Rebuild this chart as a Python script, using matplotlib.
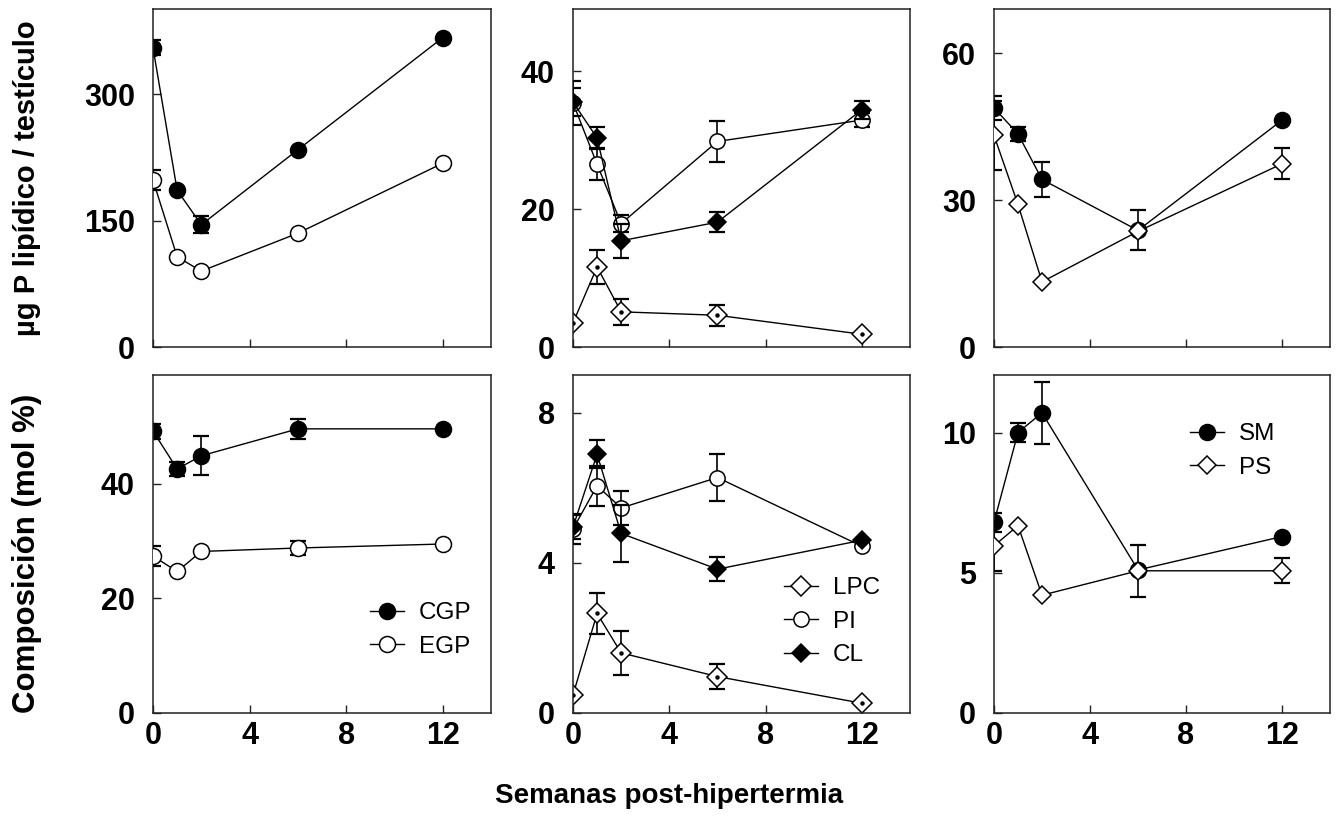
import numpy as np
import matplotlib
matplotlib.use("Agg")
import matplotlib.pyplot as plt

plt.rcParams['font.family'] = ['Liberation Sans', 'DejaVu Sans']

weeks = [0, 1, 2, 6, 12]

# top row: ug P lipidico / testiculo
CGP_abs = [355, 186, 145, 234, 367]
CGP_abs_err = [9, 0, 10, 0, 0]
EGP_abs = [198, 107, 90, 135, 218]
EGP_abs_err = [12, 0, 0, 0, 0]
LPC_abs = [3.5, 11.6, 5.1, 4.6, 1.85]
LPC_abs_err = [0, 2.4, 1.9, 1.5, 0]
PI_abs = [35.4, 26.5, 17.9, 29.8, 32.9]
PI_abs_err = [3.2, 2.3, 1.2, 3.0, 1.0]
CL_abs = [35.5, 30.3, 15.4, 18.1, 34.4]
CL_abs_err = [2.0, 1.6, 2.5, 1.5, 1.3]
SM_abs = [48.8, 43.5, 34.2, 23.8, 46.3]
SM_abs_err = [2.4, 1.4, 3.5, 4.1, 0]
PS_abs = [43.2, 29.1, 13.3, 23.6, 37.4]
PS_abs_err = [7.0, 0, 0, 0, 3.2]

# bottom row: composicion (mol %)
CGP_pct = [49.2, 42.6, 44.9, 49.6, 49.6]
CGP_pct_err = [1.3, 1.3, 3.4, 1.7, 0]
EGP_pct = [27.4, 24.7, 28.2, 28.8, 29.5]
EGP_pct_err = [1.75, 0, 0, 1.3, 0]
LPC_pct = [0.48, 2.65, 1.6, 0.97, 0.26]
LPC_pct_err = [0, 0.55, 0.59, 0.34, 0]
PI_pct = [4.9, 6.05, 5.46, 6.27, 4.44]
PI_pct_err = [0.4, 0.53, 0.45, 0.62, 0]
CL_pct = [4.95, 6.89, 4.78, 3.83, 4.6]
CL_pct_err = [0.33, 0.37, 0.75, 0.32, 0]
SM_pct = [6.8, 10.0, 10.7, 5.1, 6.29]
SM_pct_err = [0.33, 0.34, 1.1, 0, 0]
PS_pct = [5.96, 6.68, 4.2, 5.07, 5.07]
PS_pct_err = [0.9, 0, 0, 0.92, 0.45]

x_ticks = [0, 4, 8, 12]

W, H = 1338, 834
fig = plt.figure(figsize=(W / 100, H / 100), dpi=100)

col_left = [153, 573, 994]
col_w = [338, 337, 336]
row_top = [9, 375]
row_h = 338

def make_ax(r, c):
    l = col_left[c] / W
    b = 1 - (row_top[r] + row_h) / H
    return fig.add_axes([l, b, col_w[c] / W, row_h / H])

STYLES = {
    'CGP': dict(marker='o', ms=11.5, mfc='black', mec='black'),
    'EGP': dict(marker='o', ms=11.5, mfc='white', mec='black'),
    'PI': dict(marker='o', ms=11, mfc='white', mec='black'),
    'CL': dict(marker='D', ms=9.2, mfc='black', mec='black'),
    'LPC': dict(marker='D', ms=9.8, mfc='white', mec='black'),
    'SM': dict(marker='o', ms=11.5, mfc='black', mec='black'),
    'PS': dict(marker='D', ms=9.2, mfc='white', mec='black'),
}

def series(ax, name, y, err, z):
    x = np.array(weeks, dtype=float)
    y = np.array(y, dtype=float)
    e = np.array(err, dtype=float)
    m = e > 0
    if m.any():
        ax.errorbar(x[m], y[m], yerr=e[m], fmt='none', ecolor='black',
                    elinewidth=1.2, capsize=6, capthick=1.6, zorder=z)
    st = STYLES[name]
    h, = ax.plot(x, y, color='black', lw=1.0, marker=st['marker'], ms=st['ms'],
                 mfc=st['mfc'], mec=st['mec'], mew=1.1, zorder=z + 0.5, label=name)
    if name == 'LPC':
        ax.plot(x, y, ls='none', marker='o', ms=2.2, color='black', zorder=z + 0.6)
    return h

def style_ax(ax, ylim, yticks, bottom):
    ax.set_xlim(0, 14)
    ax.set_ylim(*ylim)
    ax.set_xticks(x_ticks)
    ax.set_yticks(yticks)
    ax.tick_params(direction='in', length=6, width=1.0, color='#222222')
    ax.tick_params(axis='y', pad=13, labelsize=22)
    ax.tick_params(axis='x', pad=6, labelsize=22)
    for lab in ax.get_yticklabels() + ax.get_xticklabels():
        lab.set_fontweight('bold')
    if not bottom:
        ax.set_xticklabels([])
    for s in ax.spines.values():
        s.set_linewidth(1.1)
        s.set_color('#222222')

leg_kw = dict(frameon=False, fontsize=17.5, handlelength=1.4, handletextpad=0.6,
              labelspacing=0.48, borderpad=0, borderaxespad=0)

# top row
ax = make_ax(0, 0)
series(ax, 'CGP', CGP_abs, CGP_abs_err, 2)
series(ax, 'EGP', EGP_abs, EGP_abs_err, 3)
style_ax(ax, (0, 401), [0, 150, 300], False)

ax = make_ax(0, 1)
series(ax, 'LPC', LPC_abs, LPC_abs_err, 2)
series(ax, 'PI', PI_abs, PI_abs_err, 3)
series(ax, 'CL', CL_abs, CL_abs_err, 4)
style_ax(ax, (0, 49), [0, 20, 40], False)

ax = make_ax(0, 2)
series(ax, 'SM', SM_abs, SM_abs_err, 2)
series(ax, 'PS', PS_abs, PS_abs_err, 3)
style_ax(ax, (0, 69), [0, 30, 60], False)

# bottom row
ax = make_ax(1, 0)
series(ax, 'CGP', CGP_pct, CGP_pct_err, 2)
series(ax, 'EGP', EGP_pct, EGP_pct_err, 3)
style_ax(ax, (0, 59), [0, 20, 40], True)
ax.legend(loc='upper left', bbox_to_anchor=((370 - 153) / 338, 1 - (602 - 375) / 338), **leg_kw)

ax = make_ax(1, 1)
series(ax, 'LPC', LPC_pct, LPC_pct_err, 2)
series(ax, 'PI', PI_pct, PI_pct_err, 3)
series(ax, 'CL', CL_pct, CL_pct_err, 4)
style_ax(ax, (0, 9), [0, 4, 8], True)
ax.legend(loc='upper left', bbox_to_anchor=((784 - 573) / 337, 1 - (577 - 375) / 338), **leg_kw)

ax = make_ax(1, 2)
series(ax, 'SM', SM_pct, SM_pct_err, 2)
series(ax, 'PS', PS_pct, PS_pct_err, 3)
style_ax(ax, (0, 12.05), [0, 5, 10], True)
ax.legend(loc='upper left', bbox_to_anchor=((1190 - 994) / 336, 1 - (423 - 375) / 338), **leg_kw)

fig.text(27 / W, 1 - 178 / H, 'µg P lipídico / testículo', rotation=90, ha='center', va='center',
         fontsize=21, fontweight='bold')
fig.text(27 / W, 1 - 553 / H, 'Composición (mol %)', rotation=90, ha='center', va='center',
         fontsize=22.5, fontweight='bold')
fig.text(669 / W, 1 - 803 / H, 'Semanas post-hipertermia', ha='center', va='baseline',
         fontsize=20, fontweight='bold')

fig.savefig('out.png', dpi=100)
